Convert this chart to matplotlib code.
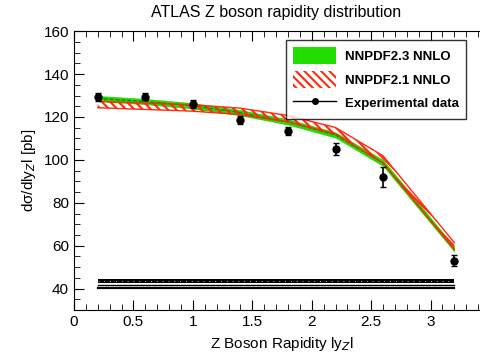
import numpy as np
import matplotlib.pyplot as plt
from matplotlib.patches import Patch
from matplotlib.lines import Line2D
from matplotlib.ticker import MultipleLocator, FormatStrFormatter

plt.rcParams["font.family"] = ["Liberation Sans", "DejaVu Sans"]
plt.rcParams["hatch.linewidth"] = 1.5

# rapidity bins
y_z = [0.2, 0.6, 1.0, 1.4, 1.8, 2.2, 2.6, 3.2]

# measured cross sections
data_val = [129.3, 129.5, 126.0, 118.5, 113.5, 105.0, 92.0, 53.0]
data_err = [1.8, 1.8, 1.8, 2.0, 2.0, 2.8, 4.5, 2.5]

# NNPDF2.3 NNLO band
nn23_mid = [128.6, 127.2, 125.2, 122.0, 117.7, 111.6, 98.6, 58.4]
nn23_err = [1.4, 1.4, 1.4, 1.4, 1.4, 1.4, 1.6, 1.4]

# NNPDF2.1 NNLO band
nn21_mid = [125.8, 125.0, 124.2, 122.6, 119.2, 113.6, 100.2, 59.8]
nn21_err = [1.5, 1.5, 1.5, 1.5, 1.5, 1.5, 1.7, 1.6]

# strip near the bottom
strip_x = [0.2, 3.2]


def main():
    fig = plt.figure(figsize=(4.81, 3.54), dpi=100)
    ax = fig.add_axes([0.1538, 0.124, 0.865, 0.788])

    x = np.array(y_z)
    m23 = np.array(nn23_mid)
    e23 = np.array(nn23_err)
    m21 = np.array(nn21_mid)
    e21 = np.array(nn21_err)

    ax.fill_between(x, m23 - e23, m23 + e23, color="#22dd00", lw=0, zorder=2)
    ax.plot(x, m23, color="#117700", lw=0.8, ls="--", zorder=3)

    ax.fill_between(x, m21 - e21, m21 + e21, facecolor="none", edgecolor="#ff2a10",
                    hatch="\\\\\\\\", lw=0, zorder=4)
    ax.plot(x, m21 - e21, color="#ff2a10", lw=1.0, zorder=4)
    ax.plot(x, m21 + e21, color="#ff2a10", lw=1.0, zorder=4)

    ax.errorbar(x, data_val, yerr=data_err, fmt="o", color="black", ms=5,
                capsize=2, elinewidth=1.2, zorder=6)

    # dark strip near y=40
    sx = np.array(strip_x)
    ax.fill_between(sx, 42.7, 44.6, color="black", lw=0, zorder=2)
    ax.plot(sx, [43.4, 43.4], color="white", lw=0.6, ls=(0, (1, 6)), zorder=3)
    ax.plot(sx, [41.7, 41.7], color="black", lw=1.0, zorder=2)
    ax.plot(sx, [40.5, 40.5], color="black", lw=1.6, zorder=2)

    ax.set_xlim(0, 3.5)
    ax.set_ylim(30, 160)
    ax.xaxis.set_major_locator(MultipleLocator(0.5))
    ax.xaxis.set_minor_locator(MultipleLocator(0.1))
    ax.xaxis.set_major_formatter(FormatStrFormatter("%g"))
    ax.yaxis.set_major_locator(MultipleLocator(20))
    ax.yaxis.set_minor_locator(MultipleLocator(5))
    ax.tick_params(which="both", direction="in", top=True, right=True, labelsize=11)
    ax.tick_params(which="major", length=7)
    ax.tick_params(which="minor", length=4)

    ax.set_xlabel("Z Boson Rapidity ly$_Z$l", fontsize=11)
    ax.set_ylabel("d\u03c3/dly$_Z$l [pb]", fontsize=11)
    fig.text(0.573, 0.965, "ATLAS Z boson rapidity distribution",
             ha="center", va="center", fontsize=11.5)

    handles = [
        Patch(facecolor="#22dd00", edgecolor="none"),
        Patch(facecolor="white", edgecolor="#ff2a10", hatch="\\\\\\\\", lw=0),
        Line2D([0], [0], color="black", marker="o", ms=4, lw=1),
    ]
    labels = ["NNPDF2.3 NNLO", "NNPDF2.1 NNLO", "Experimental data"]
    leg = ax.legend(handles, labels, loc="upper left", bbox_to_anchor=(0.51, 0.968),
                    borderaxespad=0, prop={"weight": "bold", "size": 9.5},
                    frameon=True, fancybox=False, edgecolor="black",
                    handlelength=3.2, handleheight=1.6, borderpad=0.55,
                    labelspacing=0.5, handletextpad=0.7)
    leg.get_frame().set_linewidth(1.0)

    fig.savefig("out.png", dpi=100)


if __name__ == "__main__":
    main()
